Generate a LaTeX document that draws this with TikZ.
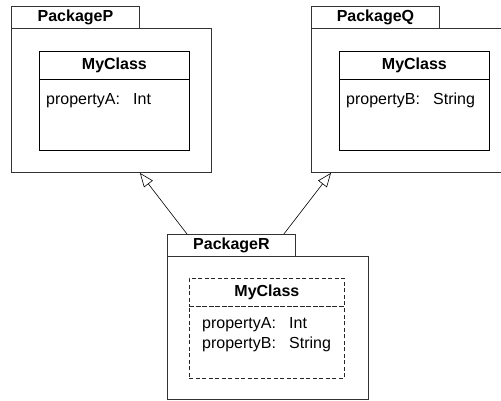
\documentclass[tikz,border=0pt]{standalone}
\usepackage{fontspec}
\setmainfont{Liberation Sans}
\usetikzlibrary{arrows.meta,calc}
\newcommand{\attr}[2]{\makebox[87pt][l]{#1}#2}
\begin{document}
\begin{tikzpicture}[x=1pt,y=-1pt,
  pkgtab/.style={draw=black!80,line width=0.9pt,rectangle,inner sep=0pt,anchor=north west,
    minimum width=128pt,minimum height=22pt,font=\fontsize{16}{19}\selectfont\bfseries},
  pkgbody/.style={draw=black!80,line width=0.9pt,rectangle,inner sep=0pt,anchor=north west},
  clshead/.style={draw=black,line width=0.8pt,rectangle,inner sep=0pt,anchor=north west,
    minimum height=28pt,font=\fontsize{16}{19}\selectfont\bfseries},
  clsbody/.style={draw=black,line width=0.8pt,rectangle,inner sep=0pt,anchor=north west},
  prop/.style={anchor=base west,inner sep=0pt,font=\fontsize{16}{19}\selectfont},
  dashedbox/.style={dash pattern=on 4pt off 2.5pt,draw=black!85},
  gen/.style={draw=black,line width=0.6pt,-{Triangle[open,length=14pt,width=11pt]}}
]
\useasboundingbox (0,0) rectangle (501,400);
\clip (0,0) rectangle (501,400);

% PackageP
\node[pkgbody,minimum width=200pt,minimum height=144pt] (bodyP) at (11,28) {};
\node[pkgtab] (tabP) at (11,6) {PackageP};
\node[clshead,minimum width=150pt] (headP) at (39,51) {MyClass};
\node[clsbody,minimum width=150pt,minimum height=71pt] (clsP) at (39,79) {};
\node[prop] (propP) at (46,104) {\attr{propertyA:}{Int}};

% PackageQ (its right side runs past the frame)
\node[pkgbody,minimum width=200pt,minimum height=144pt] (bodyQ) at (311,28) {};
\node[pkgtab] (tabQ) at (311,6) {PackageQ};
\node[clshead,minimum width=150pt] (headQ) at (339,51) {MyClass};
\node[clsbody,minimum width=150pt,minimum height=71pt] (clsQ) at (339,79) {};
\node[prop] (propQ) at (346,104) {\attr{propertyB:}{String}};

% PackageR with the merged class
\node[pkgbody,minimum width=201pt,minimum height=143pt] (bodyR) at (167,256) {};
\node[pkgtab] (tabR) at (167,234) {PackageR};
\node[clshead,dashedbox,minimum width=155pt] (headR) at (189,278) {MyClass};
\node[clsbody,dashedbox,minimum width=155pt,minimum height=72pt] (clsR) at (189,306) {};
\node[prop] (propRa) at (202,328) {\attr{propertyA:}{Int}};
\node[prop] (propRb) at (202,348) {\attr{propertyB:}{String}};

% generalisation arrows
\coordinate (rLeft) at ($(tabR.north west)+(20,0)$);
\coordinate (rRight) at ($(tabR.north east)+(-12,0)$);
\coordinate (pFoot) at (tabP.east |- bodyP.south);
\coordinate (qFoot) at ($(tabQ.west |- bodyQ.south)+(20,0)$);
\draw[gen] (rLeft) -- (pFoot);
\draw[gen] (rRight) -- (qFoot);
\end{tikzpicture}
\end{document}
